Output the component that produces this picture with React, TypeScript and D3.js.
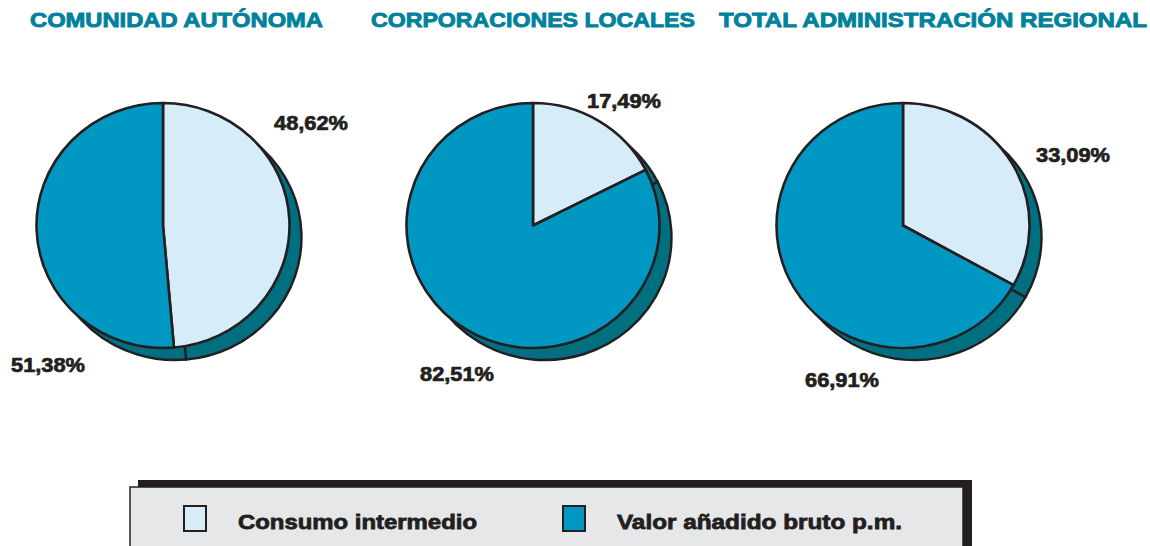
import React from "react";
import * as d3 from "d3";

const titles = ["COMUNIDAD AUTÓNOMA", "CORPORACIONES LOCALES", "TOTAL ADMINISTRACIÓN REGIONAL"];
const categories = ["Consumo intermedio", "Valor añadido bruto p.m."];
const consumoValues = [48.62, 17.49, 33.09];
const valorValues = [51.38, 82.51, 66.91];
const consumoLabels = ["48,62%", "17,49%", "33,09%"];
const valorLabels = ["51,38%", "82,51%", "66,91%"];

const W = 1150;
const H = 546;
const LIGHT = "#d6edf9";
const TEAL = "#0098c2";
const SHADOW = "#006f80";
const STROKE = "#231f20";
const TITLE = "#00829c";

const centersX = [163, 533, 903];
const CY = 225.5;
const RX = 126.5;
const RY = 122.5;
const SHIFT = 12;

const titleLayout = [
  { x: 30, w: 293 },
  { x: 371, w: 324 },
  { x: 719, w: 428 },
];
const consumoLabelPos = [
  { x: 274, y: 129.5 },
  { x: 587, y: 107.5 },
  { x: 1036, y: 162 },
];
const valorLabelPos = [
  { x: 11, y: 372 },
  { x: 420, y: 381 },
  { x: 805, y: 387 },
];

const pie = d3.pie<number>().sort(null).value((d) => d);
const arc = d3.arc<d3.PieArcDatum<number>>().innerRadius(0).outerRadius(RY);

function Pie({ i }: { i: number }) {
  const data = pie([consumoValues[i], valorValues[i]]);
  const fills = [LIGHT, TEAL];
  const sx = RX / RY;
  return (
    <g>
      <g transform={`translate(${centersX[i] + SHIFT},${CY + SHIFT}) scale(${sx},1)`}>
        {data.map((d, k) => (
          <path key={k} d={arc(d) || ""} fill={SHADOW} stroke={STROKE} strokeWidth={2.4} vectorEffect="non-scaling-stroke" />
        ))}
      </g>
      <g transform={`translate(${centersX[i]},${CY}) scale(${sx},1)`}>
        {data.map((d, k) => (
          <path key={k} d={arc(d) || ""} fill={fills[k]} stroke={STROKE} strokeWidth={2.6} strokeLinejoin="round" vectorEffect="non-scaling-stroke" />
        ))}
      </g>
    </g>
  );
}

export default function App() {
  const labelStyle = {
    fontFamily: "Liberation Sans, Arial, sans-serif", fontWeight: 700, fontSize: 20, fill: STROKE,
    stroke: STROKE, strokeWidth: 0.7,
  } as const;
  return (
    <svg width={W} height={H} style={{ position: "absolute", left: 0, top: 0, background: "#fff" }}>
      <rect x={0} y={0} width={W} height={H} fill="#fff" />
      {titles.map((t, i) => (
        <text key={t} x={titleLayout[i].x} y={27} textLength={titleLayout[i].w} lengthAdjust="spacingAndGlyphs"
          style={{ fontFamily: "Liberation Sans, Arial, sans-serif", fontWeight: 900, fontSize: 21, fill: TITLE, stroke: TITLE, strokeWidth: 0.9 }}>
          {t}
        </text>
      ))}
      {titles.map((t, i) => <Pie key={t} i={i} />)}
      {consumoLabels.map((l, i) => (
        <text key={"c" + i} x={consumoLabelPos[i].x} y={consumoLabelPos[i].y} textLength={74} lengthAdjust="spacingAndGlyphs" style={labelStyle}>{l}</text>
      ))}
      {valorLabels.map((l, i) => (
        <text key={"v" + i} x={valorLabelPos[i].x} y={valorLabelPos[i].y} textLength={74} lengthAdjust="spacingAndGlyphs" style={labelStyle}>{l}</text>
      ))}
      <g>
        <rect x={138} y={480} width={834} height={80} fill="#231f20" />
        <rect x={130} y={487} width={833} height={80} fill="#e6e7e8" stroke={STROKE} strokeWidth={1.5} />
        {categories.map((c, k) => {
          const bx = [184, 563][k];
          const tx = [238, 617][k];
          const tw = [239, 285][k];
          return (
            <g key={c}>
              <rect x={bx} y={506} width={22} height={25} fill={k === 0 ? LIGHT : TEAL} stroke={STROKE} strokeWidth={2} />
              <text x={tx} y={528.5} textLength={tw} lengthAdjust="spacingAndGlyphs"
                style={{ fontFamily: "Liberation Sans Narrow, Liberation Sans, Arial, sans-serif", fontWeight: 700, fontSize: 21, fill: STROKE, stroke: STROKE, strokeWidth: 0.8 }}>
                {c}
              </text>
            </g>
          );
        })}
      </g>
    </svg>
  );
}
